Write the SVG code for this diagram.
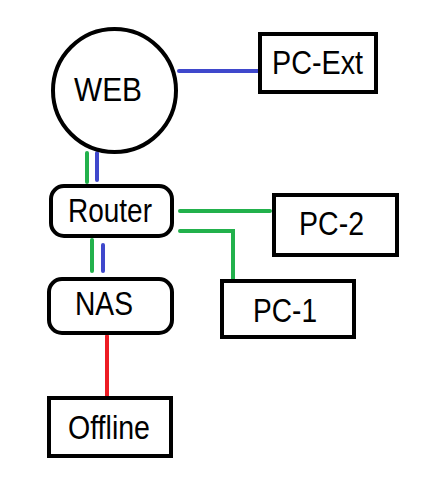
<svg xmlns="http://www.w3.org/2000/svg" width="421" height="482" viewBox="0 0 421 482">
<style>
.box{fill:#fff;stroke:#000;stroke-width:4}
.t{font-family:"Liberation Sans",Arial,sans-serif;font-size:33px;fill:#000;text-anchor:middle}
.c{fill:none;stroke-width:4;stroke-linecap:round;stroke-linejoin:miter}
.g{stroke:#22b14c}.b{stroke:#3f48cc}.r{stroke:#ed1c24}
</style>
<rect width="421" height="482" fill="#fff"/>
<g id="connectors">
<line class="c b" x1="179" y1="71" x2="258" y2="71"/>
<line class="c g" x1="87" y1="153" x2="87" y2="182"/>
<line class="c b" x1="97" y1="153" x2="97" y2="180"/>
<line class="c g" x1="180" y1="211" x2="270" y2="211"/>
<polyline class="c g" points="180,231 233,231 233,279"/>
<line class="c g" x1="92" y1="240" x2="92" y2="271"/>
<line class="c b" x1="103" y1="245" x2="103" y2="271"/>
<line class="c r" x1="107" y1="336" x2="107" y2="397"/>
</g>
<g id="web">
<circle class="box" cx="114.5" cy="90.5" r="61.5"/>
<text class="t" x="108" y="101" textLength="68" lengthAdjust="spacingAndGlyphs">WEB</text>
</g>
<g id="pc-ext">
<rect class="box" x="260" y="34" width="116" height="58"/>
<text class="t" x="317.5" y="74" textLength="91" lengthAdjust="spacingAndGlyphs">PC-Ext</text>
</g>
<g id="router">
<rect class="box" x="51" y="186" width="121" height="50" rx="13"/>
<text class="t" x="110" y="222" textLength="84" lengthAdjust="spacingAndGlyphs">Router</text>
</g>
<g id="pc-2">
<rect class="box" x="274" y="195" width="123" height="60"/>
<text class="t" x="331.5" y="235" textLength="65" lengthAdjust="spacingAndGlyphs">PC-2</text>
</g>
<g id="pc-1">
<rect class="box" x="222" y="281" width="132" height="56"/>
<text class="t" x="285" y="322" textLength="64" lengthAdjust="spacingAndGlyphs">PC-1</text>
</g>
<g id="nas">
<rect class="box" x="49" y="279" width="123" height="54" rx="13"/>
<text class="t" x="104" y="315" textLength="58" lengthAdjust="spacingAndGlyphs">NAS</text>
</g>
<g id="offline">
<rect class="box" x="49" y="398" width="122" height="58"/>
<text class="t" x="109" y="439" textLength="82" lengthAdjust="spacingAndGlyphs">Offline</text>
</g>
</svg>
